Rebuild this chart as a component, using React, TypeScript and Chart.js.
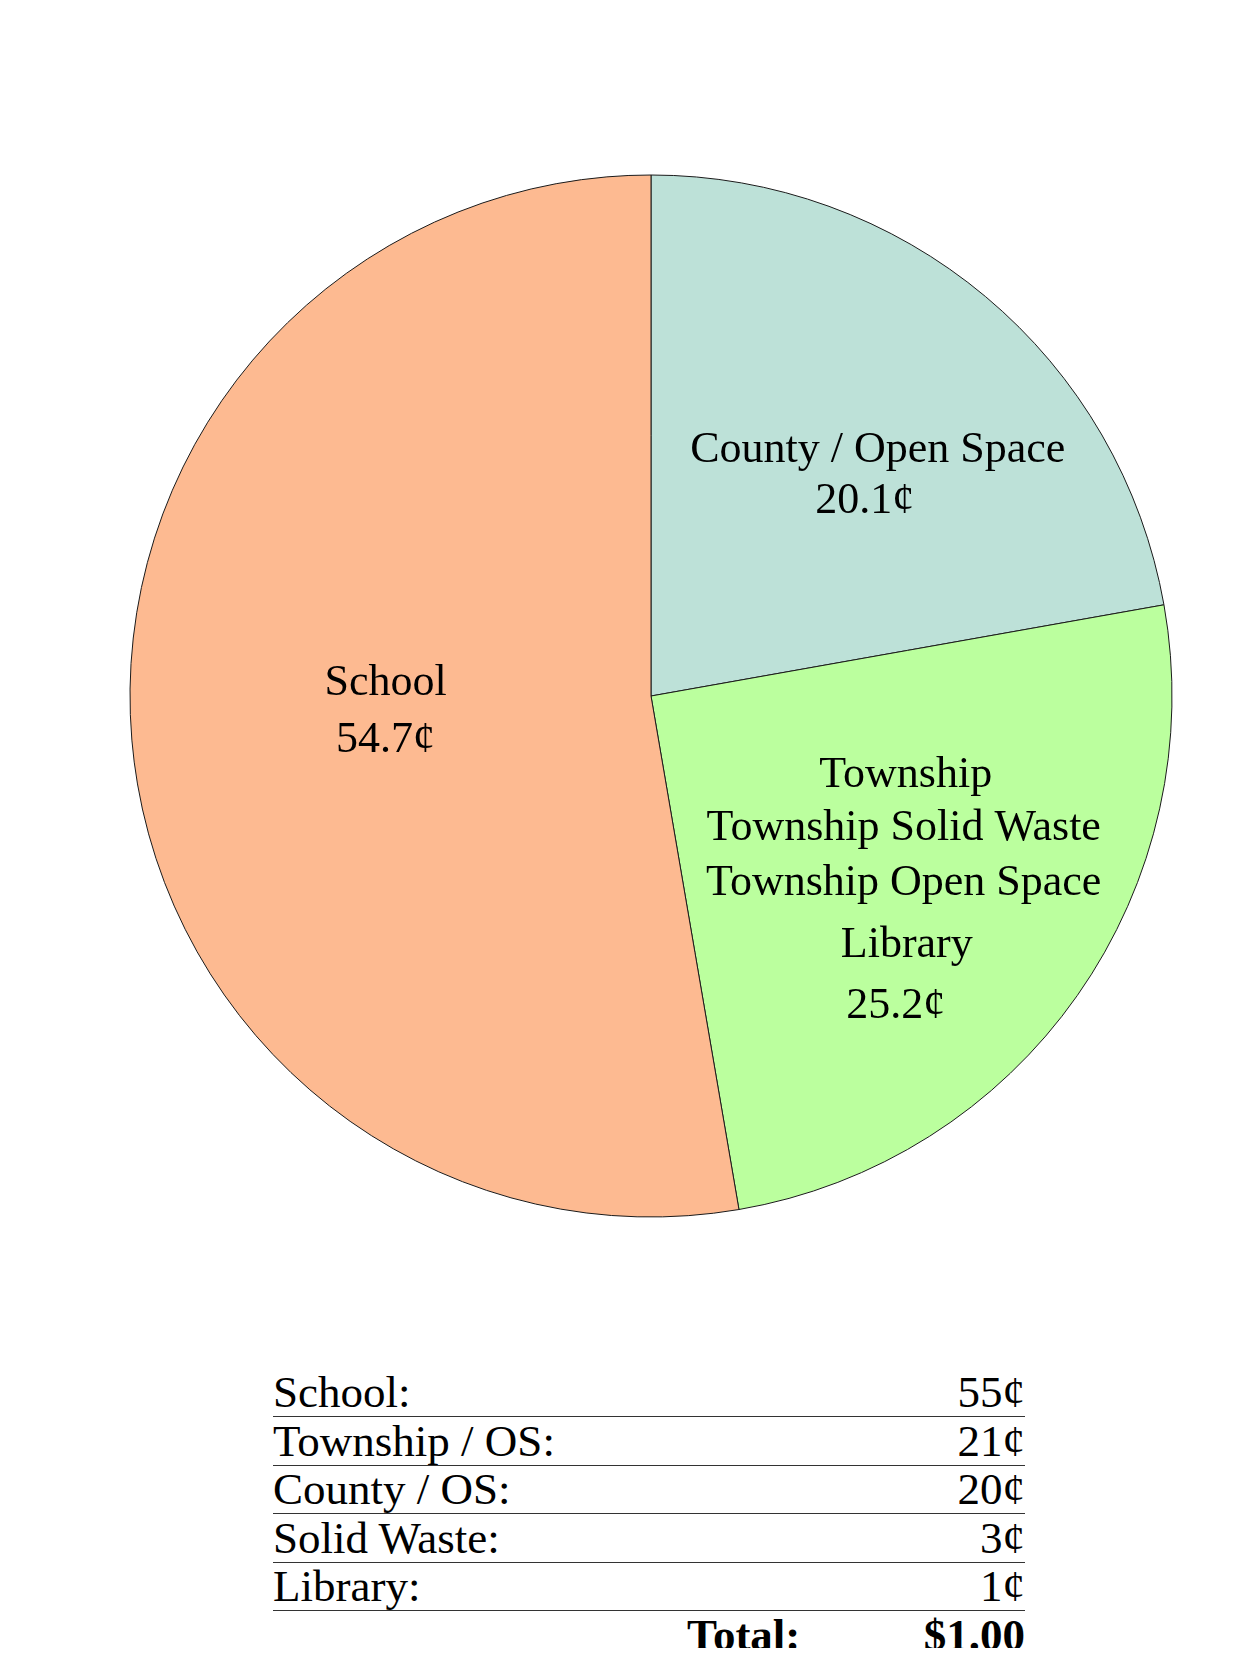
import React, { useEffect, useRef } from "react";
import { Chart, registerables } from "chart.js";

Chart.register(...registerables);

// Pie slices, clockwise from 12 o'clock (sizes as drawn in the picture)
const sliceNames = ["County / Open Space", "Township", "School"];
const sliceValues = [22.2, 25.1, 52.7];
const sliceColors = ["#BDE1D8", "#BBFF9E", "#FDBA91"];
const sliceLabelLines = [
  ["County / Open Space", "20.1¢"],
  ["Township", "Township Solid Waste", "Township Open Space", "Library", "25.2¢"],
  ["School", "54.7¢"],
];

// Summary table
const tableCategories = ["School:", "Township / OS:", "County / OS:", "Solid Waste:", "Library:"];
const tableCents = [55, 21, 20, 3, 1];
const totalLabel = "Total:";
const totalValue = "$1.00";

// Label layout: offsets (px) of each text line relative to an anchor at 60% radius on the slice mid-angle
const labelAnchorFraction = 0.6;
const labelOffsets = [
  [[26, 6], [13, 57]],
  [[-1, -88.5], [-3, -35.5], [-3, 19.5], [0, 81.5], [-11, 142.5]],
  [[46, -27.7], [46, 29.3]],
];

const FONT = '"Liberation Serif", "Times New Roman", serif';

const labelPlugin = {
  id: "sliceLabels",
  afterDatasetsDraw(chart: any) {
    const ctx = chart.ctx;
    const meta = chart.getDatasetMeta(0);
    ctx.save();
    ctx.font = `44px ${FONT}`;
    ctx.fillStyle = "#000";
    ctx.textAlign = "center";
    ctx.textBaseline = "alphabetic";
    meta.data.forEach((arc: any, i: number) => {
      const p = arc.getProps(["x", "y", "startAngle", "endAngle", "outerRadius"], true);
      const mid = (p.startAngle + p.endAngle) / 2;
      const ax = p.x + Math.cos(mid) * p.outerRadius * labelAnchorFraction;
      const ay = p.y + Math.sin(mid) * p.outerRadius * labelAnchorFraction;
      sliceLabelLines[i].forEach((line, j) => {
        const [dx, dy] = labelOffsets[i][j];
        ctx.fillText(line, ax + dx, ay + dy);
      });
    });
    ctx.restore();
  },
};

function PieChart() {
  const ref = useRef<HTMLCanvasElement | null>(null);
  useEffect(() => {
    if (!ref.current) return;
    const chart = new Chart(ref.current, {
      type: "pie",
      data: {
        labels: sliceNames,
        datasets: [
          {
            data: sliceValues,
            backgroundColor: sliceColors,
            borderColor: "#1a1a1a",
            borderWidth: 1,
          },
        ],
      },
      options: {
        responsive: false,
        animation: false,
        radius: 521,
        layout: { padding: 0 },
        plugins: {
          legend: { display: false },
          tooltip: { enabled: false },
        },
      },
      plugins: [labelPlugin],
    });
    return () => chart.destroy();
  }, []);
  return (
    <canvas
      ref={ref}
      width={1044}
      height={1044}
      style={{ position: "absolute", left: 121, top: 166, width: 1044, height: 1044 }}
    />
  );
}

export default function App() {
  const rowTop = 1360;
  const rowPitch = 48.6;
  return (
    <div style={{ position: "relative", width: 1228, height: 1640, fontFamily: FONT, color: "#000" }}>
      <PieChart />
      {tableCategories.map((c, i) => (
        <div
          key={c}
          style={{
            position: "absolute",
            left: 265,
            top: rowTop + i * rowPitch,
            width: 752,
            height: 48,
            lineHeight: "48px",
            fontSize: 45,
            display: "flex",
            justifyContent: "space-between",
            borderBottom: "1px solid #333",
            whiteSpace: "nowrap",
          }}
        >
          <span>{c}</span>
          <span>{tableCents[i]}¢</span>
        </div>
      ))}
      <div
        style={{
          position: "absolute",
          left: 265,
          top: rowTop + 5 * rowPitch,
          width: 752,
          height: 48,
          lineHeight: "48px",
          fontSize: 45,
          fontWeight: "bold",
          whiteSpace: "nowrap",
        }}
      >
        <span style={{ position: "absolute", left: 414 }}>{totalLabel}</span>
        <span style={{ position: "absolute", right: 0 }}>{totalValue}</span>
      </div>
    </div>
  );
}
